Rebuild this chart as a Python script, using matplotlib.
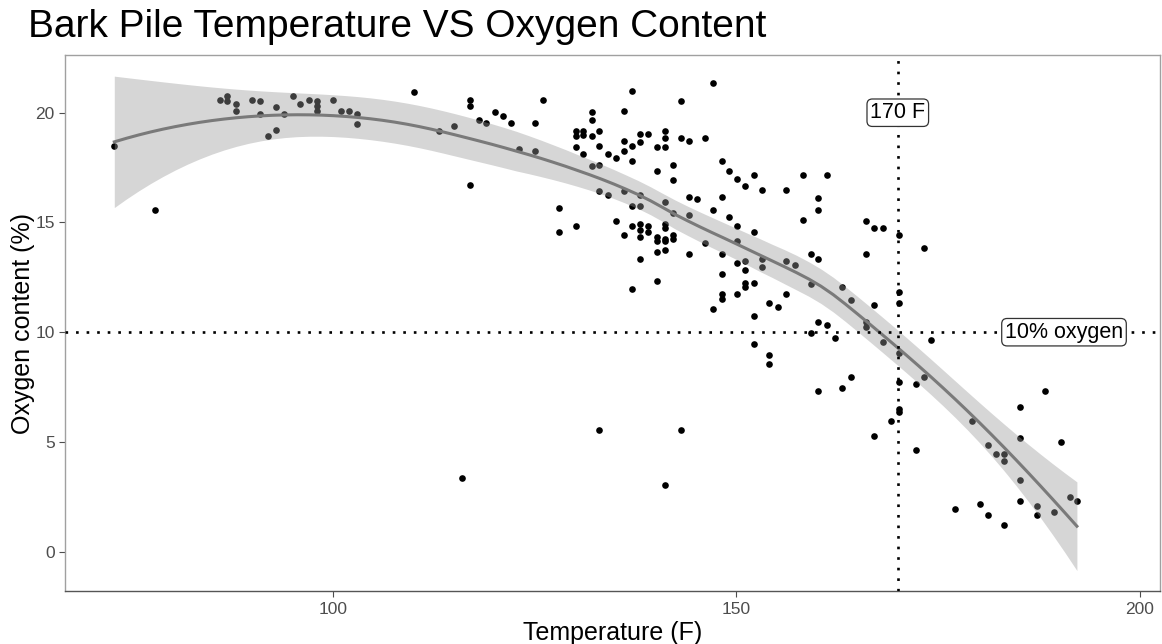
import numpy as np
import matplotlib
matplotlib.use('Agg')
import matplotlib.pyplot as plt

plt.rcParams['font.family'] = ['Liberation Sans', 'DejaVu Sans']

title = 'Bark Pile Temperature VS Oxygen Content'
xlabel = 'Temperature (F)'
ylabel = 'Oxygen content (%)'

# temperature (F), oxygen (%)
temp = [72.9, 77.9, 86.0, 86.9, 86.9, 88.0, 88.0, 90.0, 91.0, 91.0, 91.9, 93.0, 93.0, 93.9,
        95.0, 95.95, 97.0, 98.0, 98.0, 98.0, 100.0, 101.0, 102.0, 103.0, 103.0, 110.0, 113.1,
        115.0, 117.0, 117.0, 117.0, 118.1, 119.0, 120.1, 121.1, 122.1, 123.1, 125.1, 125.1,
        126.0, 128.0, 128.0, 130.1, 130.1, 130.1, 130.1, 131.0, 131.0, 131.0, 132.1, 132.1,
        132.1, 132.1, 133.0, 133.0, 133.0, 133.0, 134.1, 134.1, 135.1, 135.1, 136.1, 136.1,
        136.1, 136.1, 136.1, 137.1, 137.1, 137.1, 137.1, 137.1, 137.1, 138.1, 138.1, 138.0,
        138.0, 138.0, 138.0, 138.0, 138.0, 139.1, 139.1, 139.1, 140.1, 140.1, 140.1, 140.1,
        140.1, 140.1, 141.1, 141.1, 141.1, 141.1, 141.1, 141.1, 141.1, 141.1, 141.1, 142.1,
        142.1, 142.1, 142.1, 142.1, 143.1, 143.1, 144.1, 144.1, 145.1, 144.1, 144.1, 146.1,
        146.1, 147.1, 147.1, 147.1, 148.2, 148.2, 148.2, 148.2, 148.2, 148.2, 149.1, 149.1,
        150.1, 150.1, 150.1, 150.1, 150.1, 151.1, 151.1, 151.1, 151.1, 151.1, 152.2, 152.2,
        152.2, 152.2, 152.2, 153.2, 153.2, 153.2, 154.1, 154.1, 154.1, 155.1, 156.1, 156.1,
        156.1, 157.2, 158.2, 158.2, 159.2, 159.2, 159.2, 160.1, 160.1, 160.1, 160.1, 160.1,
        161.2, 161.2, 162.2, 163.1, 163.1, 164.2, 164.2, 166.1, 166.1, 166.1, 166.1, 167.1,
        167.1, 167.1, 168.2, 168.2, 169.2, 170.1, 170.1, 170.1, 170.1, 170.1, 170.1, 170.1,
        172.2, 172.2, 173.2, 173.2, 174.1, 177.1, 179.2, 180.2, 181.2, 181.2, 182.2, 183.2,
        183.2, 183.2, 185.2, 185.2, 185.2, 185.2, 187.2, 187.2, 188.2, 189.3, 190.2, 191.3,
        192.2, 116.0, 133.0, 143.1, 141.1]
oxygen = [18.5, 15.55, 20.6, 20.75, 20.55, 20.4, 20.1, 20.6, 20.55, 19.95, 18.95, 20.25, 19.2,
          19.95, 20.75, 20.4, 20.6, 20.55, 20.3, 20.1, 20.6, 20.1, 20.1, 19.95, 19.5, 20.95,
          19.15, 19.4, 20.6, 20.3, 16.7, 19.65, 19.55, 20.05, 19.85, 19.55, 18.35, 19.55, 18.25,
          20.6, 15.65, 14.55, 14.85, 19.15, 18.95, 18.45, 19.15, 19.0, 18.1, 20.05, 19.65,
          18.95, 17.55, 19.15, 18.5, 17.6, 16.45, 18.1, 16.25, 17.95, 15.05, 20.1, 18.7, 18.25,
          16.45, 14.45, 21.0, 18.5, 17.8, 15.75, 14.85, 11.95, 19.05, 18.65, 16.25, 15.75,
          14.95, 14.65, 14.35, 13.35, 19.05, 14.85, 14.55, 18.45, 17.35, 14.35, 14.15, 13.65,
          12.35, 19.15, 18.85, 18.45, 15.95, 14.95, 14.75, 14.25, 14.15, 13.75, 17.6, 16.95,
          15.45, 14.45, 14.25, 20.55, 18.85, 18.7, 16.15, 16.05, 15.35, 13.55, 18.85, 14.05,
          21.35, 15.55, 11.05, 17.8, 16.15, 13.55, 12.65, 11.75, 11.5, 17.35, 15.25, 17.0,
          14.85, 14.15, 13.15, 11.75, 16.65, 13.25, 12.85, 12.25, 12.05, 17.15, 14.55, 12.25,
          10.75, 9.45, 16.5, 13.35, 12.95, 11.35, 8.95, 8.55, 11.15, 16.5, 13.25, 11.75, 13.05,
          17.15, 15.1, 13.55, 12.2, 9.95, 16.1, 15.55, 13.35, 10.45, 7.3, 17.15, 10.35, 9.75,
          12.05, 7.45, 11.45, 7.95, 15.05, 13.55, 10.45, 10.25, 14.75, 11.25, 5.25, 14.75,
          9.55, 5.95, 14.45, 11.85, 11.35, 9.05, 7.75, 6.5, 6.35, 7.65, 4.65, 13.85, 7.95,
          9.65, 1.95, 5.95, 2.15, 4.85, 1.65, 4.45, 4.45, 4.15, 1.2, 6.6, 5.2, 3.25, 2.3, 2.1,
          1.65, 7.3, 1.8, 5.0, 2.5, 2.3, 3.35, 5.55, 5.55, 3.05]

temp_line = 170
oxygen_line = 10
temp_label = '170 F'
oxygen_label = '10% oxygen'


def loess(x, y, xnew, span=0.75):
    # local quadratic fit with tricube weights, like geom_smooth's loess
    n = len(x)
    q = int(np.floor(n * span))

    def hat_row(x0):
        d = np.abs(x - x0)
        h = np.sort(d)[q - 1]
        w = np.clip(1 - (d / h) ** 3, 0, None) ** 3
        X = np.column_stack([np.ones(n), x - x0, (x - x0) ** 2])
        XtW = X.T * w
        return np.linalg.solve(XtW @ X, XtW)[0]

    L = np.array([hat_row(v) for v in x])
    resid = y - L @ y
    M = np.eye(n) - L
    MtM = M.T @ M
    d1 = np.trace(MtM)
    d2 = np.trace(MtM @ MtM)
    sigma = np.sqrt(np.sum(resid ** 2) / d1)
    Lnew = np.array([hat_row(v) for v in xnew])
    fit = Lnew @ y
    se = sigma * np.sqrt(np.sum(Lnew ** 2, axis=1))
    df = d1 ** 2 / d2
    t = 1.96 + 2.4 / df
    return fit, fit - t * se, fit + t * se


x = np.array(temp)
y = np.array(oxygen)
grid = np.linspace(x.min(), x.max(), 80)
fit, lo, hi = loess(x, y, grid)

fig = plt.figure(figsize=(11.62, 6.44), dpi=100)
ax = fig.add_axes([0.056, 0.082, 0.9423, 0.8326])

ax.scatter(x, y, s=23, color='black', linewidths=0, zorder=2)
ax.fill_between(grid, lo, hi, color='#999999', alpha=0.4, linewidth=0, zorder=3)
ax.plot(grid, fit, color='#7a7a7a', linewidth=2.2, zorder=4)

ax.axvline(temp_line, color='black', linewidth=1.9, linestyle=(0, (1, 3)), zorder=5)
ax.axhline(oxygen_line, color='black', linewidth=1.9, linestyle=(0, (1, 3)), zorder=5)

box = dict(boxstyle='round,pad=0.15,rounding_size=0.25', facecolor='white', edgecolor='#333333', linewidth=0.9)
ax.text(temp_line, 20, temp_label, fontsize=15.5, ha='center', va='center', bbox=box, zorder=6)
ax.text(190.6, oxygen_line, oxygen_label, fontsize=15.5, ha='center', va='center', bbox=box, zorder=6)

ax.set_xlim(66.8, 202.5)
ax.set_ylim(-1.8, 22.63)
ax.set_xticks([100, 150, 200])
ax.set_yticks([0, 5, 10, 15, 20])
ax.tick_params(colors='#4d4d4d', labelsize=12.5, length=4, width=0.8, labelcolor='#4d4d4d')

for side in ['top', 'left', 'right']:
    ax.spines[side].set_color('#a0a0a0')
ax.spines['bottom'].set_color('#555555')
for s in ax.spines.values():
    s.set_linewidth(1.0)

ax.set_xlabel(xlabel, fontsize=18, labelpad=3)
ax.set_ylabel(ylabel, fontsize=18, labelpad=0)
fig.text(0.024, 0.958, title, fontsize=28, ha='left', va='center')

fig.savefig('out.png', dpi=100)
